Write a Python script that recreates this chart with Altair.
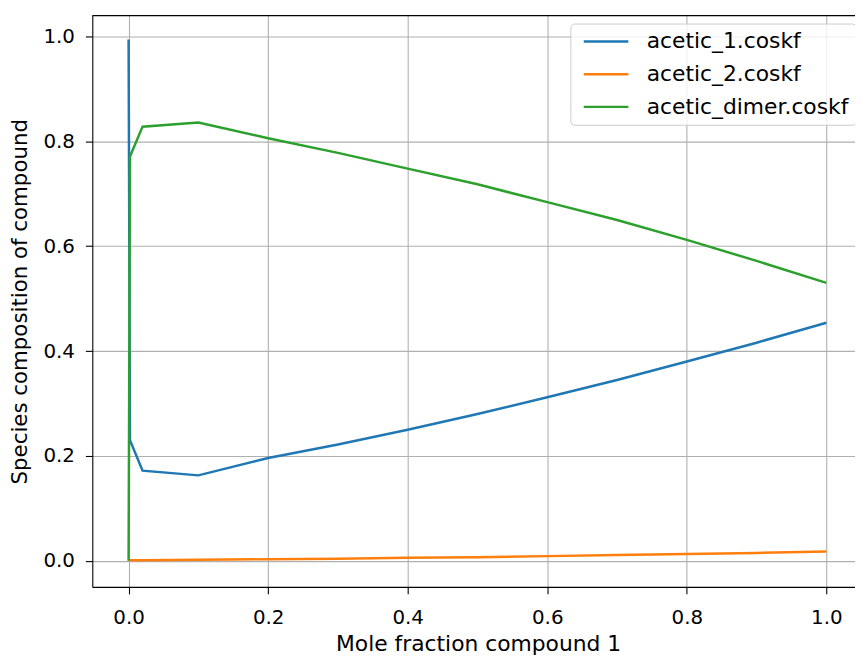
import altair as alt
import pandas as pd

x_vals = [0.0, 0.002, 0.02, 0.1, 0.2, 0.3, 0.4, 0.5, 0.6, 0.7, 0.8, 0.9, 1.0]
acetic_1 = [0.994, 0.230, 0.172, 0.163, 0.196, 0.222, 0.250, 0.280, 0.312, 0.345, 0.380, 0.416, 0.454]
acetic_2 = [0.0025, 0.001, 0.001, 0.002, 0.003, 0.004, 0.006, 0.007, 0.009, 0.011, 0.013, 0.015, 0.018]
acetic_dimer = [0.0, 0.771, 0.828, 0.836, 0.806, 0.778, 0.748, 0.718, 0.684, 0.650, 0.612, 0.572, 0.530]

series_names = ["acetic_1.coskf", "acetic_2.coskf", "acetic_dimer.coskf"]
series_colors = ["#1f77b4", "#ff7f0e", "#2ca02c"]
tick_vals = [0.0, 0.2, 0.4, 0.6, 0.8, 1.0]

rows = []
for name, vals in zip(series_names, [acetic_1, acetic_2, acetic_dimer]):
    for i, (xv, yv) in enumerate(zip(x_vals, vals)):
        rows.append({"x": xv, "y": yv, "series": name, "order": i})
df = pd.DataFrame(rows)

W, H = 769, 576
FONT = "DejaVu Sans"

lines = alt.Chart(df).mark_line(strokeWidth=2.5, clip=True).encode(
    x=alt.X("x:Q",
            scale=alt.Scale(domain=[-0.052, 1.041], nice=False, zero=False),
            axis=alt.Axis(values=tick_vals, format=".1f", title="Mole fraction compound 1",
                          grid=True, gridColor="#b0b0b0", gridWidth=1.1,
                          domainColor="#000000", domainWidth=1.1,
                          tickColor="#000000", tickSize=7, tickWidth=1.1,
                          labelFont=FONT, labelFontSize=20, labelColor="#000000",
                          labelPadding=14,
                          titleFont=FONT, titleFontSize=22, titleFontWeight="normal",
                          titleColor="#000000", titleBaseline="middle",
                          titleX=389, titleY=57)),
    y=alt.Y("y:Q",
            scale=alt.Scale(domain=[-0.0497, 1.0397], nice=False, zero=False),
            axis=alt.Axis(values=tick_vals, format=".1f", title="Species composition of compound",
                          grid=True, gridColor="#b0b0b0", gridWidth=1.1,
                          domainColor="#000000", domainWidth=1.1,
                          tickColor="#000000", tickSize=7, tickWidth=1.1,
                          labelFont=FONT, labelFontSize=20, labelColor="#000000",
                          labelPadding=11,
                          titleFont=FONT, titleFontSize=21.5, titleFontWeight="normal",
                          titleColor="#000000", titleAngle=-90, titleBaseline="middle",
                          titleX=-72, titleY=288)),
    color=alt.Color("series:N",
                    scale=alt.Scale(domain=series_names, range=series_colors),
                    legend=alt.Legend(title=None, orient="none", legendX=482, legendY=8,
                                      symbolType="M-1,0H9", symbolSize=81,
                                      symbolStrokeWidth=2.5,
                                      labelFont=FONT, labelFontSize=22, labelColor="#000000",
                                      labelLimit=400,
                                      labelOffset=48, rowPadding=11,
                                      fillColor="rgba(255,255,255,0.8)",
                                      strokeColor="#cccccc", cornerRadius=4,
                                      padding=7)),
    order="order:Q",
)

top_rule = alt.Chart(pd.DataFrame({"a": [0]})).mark_rule(color="#000000", strokeWidth=1.1).encode(
    x=alt.value(0), x2=alt.value(W), y=alt.value(0)
)

chart = alt.layer(lines, top_rule).properties(
    width=W, height=H,
    autosize=alt.AutoSizeParams(type="none"),
    padding={"left": 85, "top": 5, "right": 0, "bottom": 70},
).configure_view(stroke=None)

chart.save("out.html", embed_options={"renderer": "svg", "actions": False})
